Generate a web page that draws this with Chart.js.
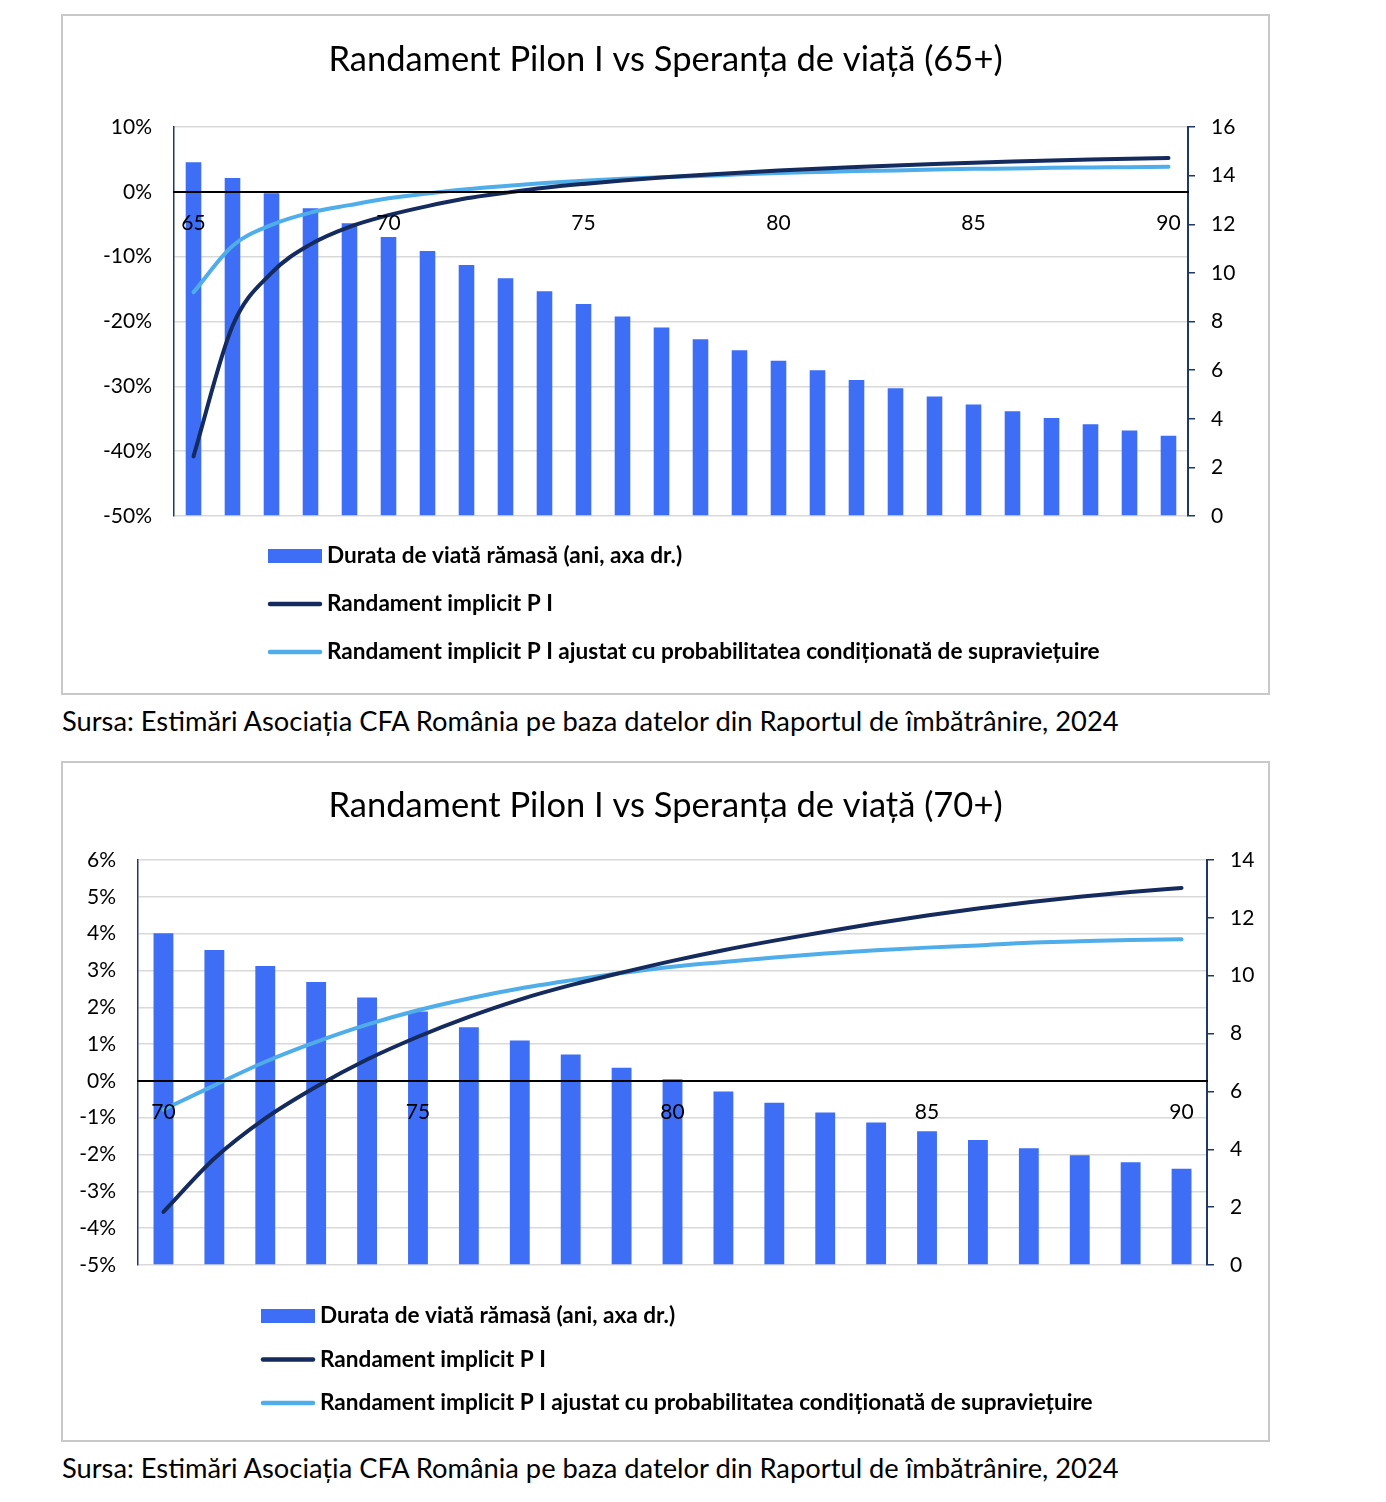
<!DOCTYPE html>
<html><head><meta charset="utf-8">
<script src="https://cdn.jsdelivr.net/npm/chart.js@4.4.1/dist/chart.umd.min.js"></script>
<style>
body{margin:0;background:#fff;width:1386px;height:1502px;position:relative;overflow:hidden;font-family:Lato,sans-serif}
.frame{position:absolute;left:61px;width:1205px;height:677px;border:2px solid #c8c8c8;background:#fff}
.frame canvas{display:block}
.src{position:absolute;left:62px;font-size:27.3px;color:#000;white-space:nowrap;line-height:30px}
</style></head><body>
<div class="frame" style="top:14px"><canvas id="c1"></canvas></div>
<div class="src" style="top:706px">Sursa: Estimări Asociația CFA România pe baza datelor din Raportul de îmbătrânire, 2024</div>
<div class="frame" style="top:761px"><canvas id="c2"></canvas></div>
<div class="src" style="top:1453px">Sursa: Estimări Asociația CFA România pe baza datelor din Raportul de îmbătrânire, 2024</div>
<script>
// ---------- DATA ----------
const ages1 = [65,66,67,68,69,70,71,72,73,74,75,76,77,78,79,80,81,82,83,84,85,86,87,88,89,90];
const durata1 = [14.55,13.9,13.27,12.66,12.04,11.48,10.9,10.32,9.78,9.24,8.72,8.21,7.75,7.27,6.82,6.39,5.99,5.59,5.25,4.92,4.59,4.31,4.03,3.77,3.52,3.30];
const randament1 = [-40.8,-20.7,-12.5,-8.1,-5.4,-3.6,-2.2,-1.0,-0.15,0.62,1.22,1.74,2.2,2.6,2.96,3.28,3.57,3.83,4.07,4.29,4.49,4.68,4.85,5.0,5.12,5.22];
const ajustat1 = [-15.5,-8.35,-5.1,-3.2,-2.05,-1.0,-0.25,0.4,0.9,1.35,1.7,2.0,2.25,2.45,2.7,2.9,3.05,3.2,3.3,3.45,3.55,3.6,3.7,3.75,3.8,3.85];
const leftTicks1 = {min:-50, max:10, step:10};
const rightTicks1 = {min:0, max:16, step:2};

const ages2 = [70,71,72,73,74,75,76,77,78,79,80,81,82,83,84,85,86,87,88,89,90];
const durata2 = [11.47,10.89,10.34,9.78,9.25,8.76,8.22,7.76,7.28,6.82,6.42,6.0,5.61,5.27,4.93,4.62,4.32,4.04,3.79,3.55,3.33];
const randament2 = [-3.56,-2.11,-1.02,-0.16,0.58,1.2,1.74,2.21,2.6,2.94,3.26,3.55,3.81,4.05,4.28,4.49,4.68,4.85,5.0,5.13,5.24];
const ajustat2 = [-0.78,-0.12,0.52,1.06,1.53,1.92,2.24,2.51,2.73,2.93,3.1,3.23,3.35,3.46,3.55,3.62,3.68,3.75,3.79,3.83,3.85];
const leftTicks2 = {min:-5, max:6, step:1};
const rightTicks2 = {min:0, max:14, step:2};

const seriesNames = ['Durata de viată rămasă (ani, axa dr.)','Randament implicit P I','Randament implicit P I ajustat cu probabilitatea condiționată de supraviețuire'];
const titles = ['Randament Pilon I vs Speranța de viață (65+)','Randament Pilon I vs Speranța de viață (70+)'];

// ---------- STYLE ----------
const FONT = 'Lato, sans-serif';
const C_BAR = '#3d6ef5', C_DARK = '#152b5e', C_LIGHT = '#4fadea', C_AXIS = '#1f3864', C_GRID = '#d9d9d9';

const stackLegend = {
  id: 'stackLegend',
  afterDraw(chart, args, o) {
    const ctx = chart.ctx;
    ctx.save();
    ctx.textBaseline = 'middle';
    ctx.font = 'bold ' + o.fontSize + 'px ' + FONT;
    chart.data.datasets.forEach((ds, i) => {
      const y = o.y0 + i * o.gap;
      if (ds.type === 'bar') {
        ctx.fillStyle = ds.backgroundColor;
        ctx.fillRect(o.x, y - 7, o.sw, 14);
      } else {
        ctx.strokeStyle = ds.borderColor;
        ctx.lineWidth = 4.5; ctx.lineCap = 'round';
        ctx.beginPath(); ctx.moveTo(o.x + 2, y); ctx.lineTo(o.x + o.sw - 2, y); ctx.stroke();
      }
      ctx.fillStyle = '#000';
      ctx.fillText(ds.label, o.x + o.sw + 5, y);
    });
    ctx.restore();
  }
};

function makeChart(id, ages, durata, rand, ajust, lt, rt, title, L) {
  new Chart(document.getElementById(id), {
    type: 'bar',
    data: {
      labels: ages,
      datasets: [
        {type:'bar', label: seriesNames[0], data: durata, yAxisID:'y1', backgroundColor: C_BAR, barPercentage: L.barPct, categoryPercentage: 1, order: 3},
        {type:'line', label: seriesNames[1], data: rand, yAxisID:'y', borderColor: C_DARK, backgroundColor: C_DARK, borderWidth: 4, pointRadius: 0, cubicInterpolationMode:'monotone', borderCapStyle:'round', order: 1},
        {type:'line', label: seriesNames[2], data: ajust, yAxisID:'y', borderColor: C_LIGHT, backgroundColor: C_LIGHT, borderWidth: 4, pointRadius: 0, cubicInterpolationMode:'monotone', borderCapStyle:'round', order: 2}
      ]
    },
    options: {
      responsive: true, maintainAspectRatio: false, animation: false,
      layout: {padding: {top: 0, left: 0, right: 0, bottom: L.padBottom}},
      plugins: {
        legend: {display: false}, tooltip: {enabled: false},
        title: {display: true, text: title, color: '#000', font: {family: FONT, size: 34.5, weight: 'normal', lineHeight: 1.2}, padding: {top: L.titleTop, bottom: L.titleBottom}},
        stackLegend: L.legend
      },
      scales: {
        x: {
          position: {y: 0}, offset: true,
          grid: {display: false, drawTicks: false},
          border: {display: true, color: '#000', width: 2, z: 1},
          ticks: {z: 2, autoSkip: false, maxRotation: 0, padding: 19, color: '#000', font: {family: FONT, size: 21},
            callback: function(v, i) { const a = ages[i]; return (a % 5 === 0) ? String(a) : ''; }}
        },
        y: {
          position: 'left', min: lt.min, max: lt.max,
          afterFit: s => { s.width = L.leftW; },
          grid: {color: C_GRID, lineWidth: 1.5, drawTicks: false},
          border: {display: true, color: C_AXIS, width: 1.5},
          ticks: {stepSize: lt.step, padding: 22, color: '#000', font: {family: FONT, size: 21}, callback: v => v + '%'}
        },
        y1: {
          position: 'right', min: rt.min, max: rt.max,
          afterFit: s => { s.width = L.rightW; },
          grid: {drawOnChartArea: false, drawTicks: true, tickLength: 7, color: C_AXIS, lineWidth: 1.5},
          border: {display: true, color: C_AXIS, width: 2},
          ticks: {stepSize: rt.step, padding: 16, color: '#000', font: {family: FONT, size: 21}}
        }
      }
    },
    plugins: [stackLegend]
  });
}

makeChart('c1', ages1, durata1, randament1, ajustat1, leftTicks1, rightTicks1, titles[0], {
  barPct: 0.4, leftW: 111, rightW: 80, padBottom: 177, titleTop: 23, titleBottom: 46.6,
  legend: {x: 205, sw: 54, y0: 540, gap: 48, fontSize: 22.6}
});
makeChart('c2', ages2, durata2, randament2, ajustat2, leftTicks2, rightTicks2, titles[1], {
  barPct: 0.39, leftW: 75, rightW: 61, padBottom: 175, titleTop: 22, titleBottom: 33.6,
  legend: {x: 198, sw: 54, y0: 553, gap: 43.5, fontSize: 22.6}
});
</script>
</body></html>
